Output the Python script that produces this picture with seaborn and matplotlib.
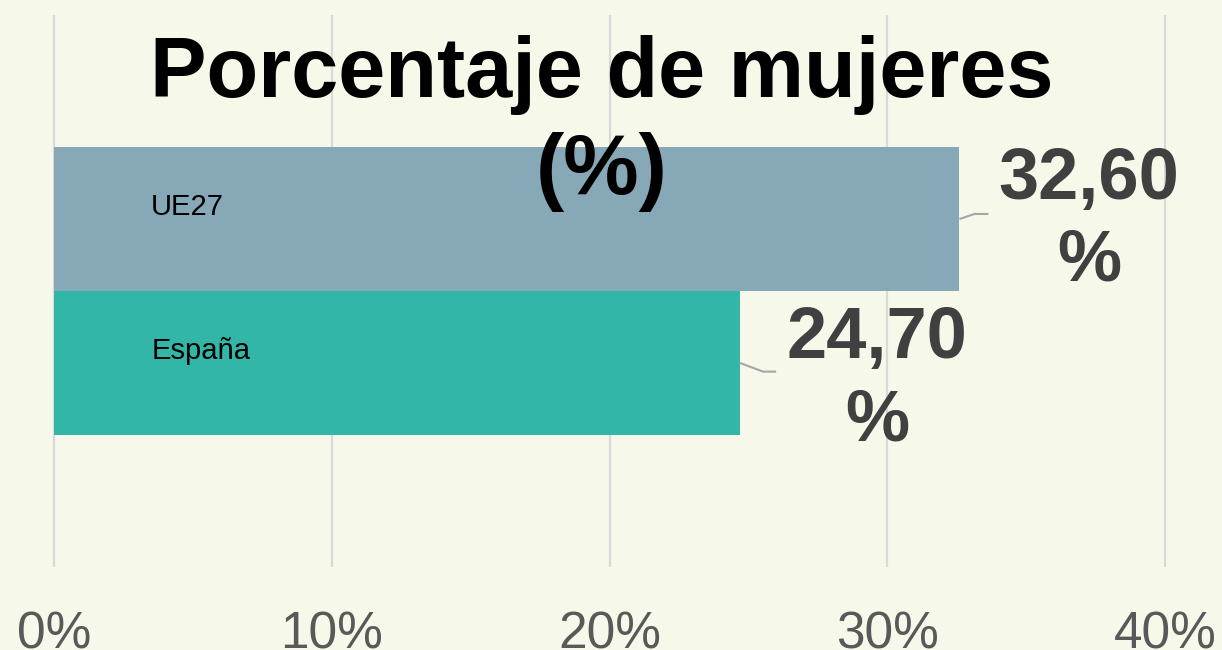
import pandas as pd
import seaborn as sns
import matplotlib.pyplot as plt

# data
regions = ['UE27', 'España']
pct_women = [32.6, 24.7]
value_labels = ['32,60\n%', '24,70\n%']
bar_colors = ['#87A8B7', '#31B6A8']
x_ticks = [0, 10, 20, 30, 40]
tick_labels = ['0%', '10%', '20%', '30%', '40%']

df = pd.DataFrame({'region': regions, 'pct': pct_women})

sns.set_style('white')
plt.rcParams['font.family'] = ['Liberation Sans', 'DejaVu Sans']

bg = '#F6F9E9'
fig = plt.figure(figsize=(12.22, 6.5), dpi=100, facecolor=bg)
ax = fig.add_axes([0, 83 / 650, 1, 552 / 650])
ax.set_facecolor(bg)

sns.barplot(data=df, y='region', x='pct', hue='region', palette=bar_colors,
            orient='h', width=1, saturation=1, legend=False, ax=ax,
            linewidth=0, edgecolor='none', zorder=2)

# pixel scale: 0% at x=54, 40% at x=1165
px = 1111 / 40
ax.set_xlim(-54 / px, (1222 - 54) / px)
ax.set_ylim(2.417, -1.417)

ax.set_xticks(x_ticks)
ax.set_xticklabels(tick_labels, fontsize=37, color='#595959')
ax.tick_params(axis='x', length=0, pad=31)
ax.set_yticks([])
ax.set_xlabel('')
ax.set_ylabel('')
for s in ax.spines.values():
    s.set_visible(False)
for t in x_ticks:
    ax.axvline(t, color='#D9D9D9', lw=1.6, zorder=1)

# category names inside the bars
for i, name in enumerate(regions):
    ax.text(3.5, i - 0.08, name, fontsize=21, va='center', ha='left',
            color='black', zorder=3)

# value labels with leader lines
offsets = [(37.26, 0.014), (29.63, 1.12)]
leaders = [(0.54, 1.04, -0.035), (0.83, 1.3, 1.06)]
for i, (v, lab) in enumerate(zip(pct_women, value_labels)):
    d1, d2, ly = leaders[i]
    ax.plot([v, v + d1, v + d2], [i, ly, ly], color='#A6A6A6', lw=1.5,
            zorder=3, solid_capstyle='butt')
    ax.text(offsets[i][0], offsets[i][1], lab, fontsize=52, fontweight='bold',
            color='#404040', ha='center', va='center', linespacing=1.26,
            zorder=4)

fig.text(602 / 1222, 1 - 123.5 / 650, 'Porcentaje de mujeres\n(%)', fontsize=61,
         fontweight='bold', color='black', ha='center', va='center',
         linespacing=1.26)

fig.savefig('out.png', dpi=100, facecolor=bg)
